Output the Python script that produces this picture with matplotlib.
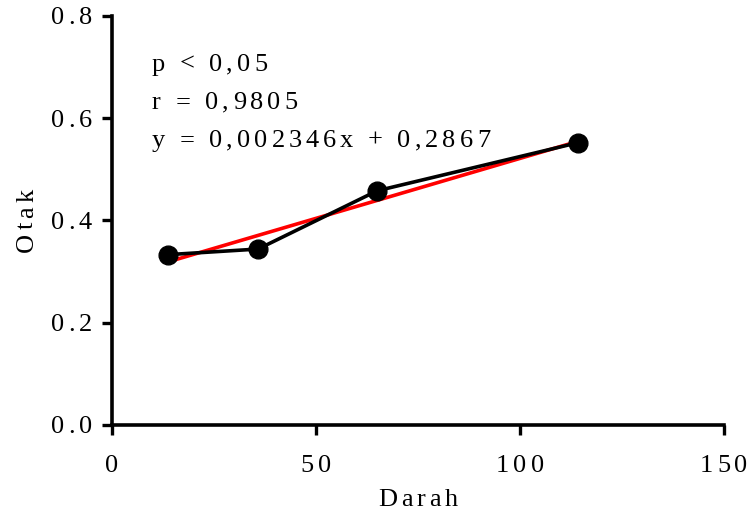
import matplotlib
matplotlib.use("Agg")
import matplotlib.pyplot as plt
import numpy as np
from matplotlib import font_manager
from matplotlib.font_manager import FontProperties
from matplotlib.ft2font import FT2Font
from matplotlib.transforms import ScaledTranslation

# data
darah = [13.7, 35.8, 65.0, 114.2]
otak = [0.333, 0.344, 0.458, 0.552]
slope = 0.002346
intercept = 0.2867
stats_lines = ["p < 0,05", "r = 0,9805", "y = 0,002346x + 0,2867"]
x_ticks = [0, 50, 100, 150]
x_tick_labels = ["0", "50", "100", "150"]
y_ticks = [0.0, 0.2, 0.4, 0.6, 0.8]
y_tick_labels = ["0.0", "0.2", "0.4", "0.6", "0.8"]

FAMILY = 'Liberation Serif'
SIZE = 19
TRACK = 4.0  # extra pixels between letters, like the original export
DPI = 100

plt.rcParams['font.family'] = [FAMILY, 'DejaVu Serif']

fig = plt.figure(figsize=(7.47, 5.15), dpi=DPI)
ax = fig.add_axes([0.150, 0.175, 0.819, 0.794])

ft = FT2Font(font_manager.findfont(FontProperties(family=FAMILY)))
ft.set_size(SIZE, DPI)


def tracked_text(x, y, s, transform, ha='left', rotation=0, dx=0, dy=0):
    """draw a string one letter at a time with extra letter spacing"""
    advs = [ft.load_char(ord(c)).linearHoriAdvance / 65536 for c in s]
    total = sum(advs) + TRACK * (len(s) - 1)
    off = {'left': 0, 'center': -total / 2, 'right': -total}[ha]
    for c, a in zip(s, advs):
        ox, oy = (off, 0) if rotation == 0 else (0, off)
        tr = transform + ScaledTranslation((dx + ox) / DPI, (dy + oy) / DPI,
                                           fig.dpi_scale_trans)
        fig.text(x, y, c, transform=tr, fontsize=SIZE, ha='left',
                 va='baseline', rotation=rotation, rotation_mode='anchor')
        off += a + TRACK


# regression line over the data range
fit_x = np.array([min(darah), max(darah)])
ax.plot(fit_x, slope * fit_x + intercept, color='red', lw=2.6, zorder=2)
ax.plot(darah, otak, color='black', lw=2.6, marker='o', markersize=13.5, zorder=3)

ax.set_xlim(0, 150)
ax.set_ylim(0, 0.8)
ax.set_xticks(x_ticks)
ax.set_yticks(y_ticks)
ax.set_xticklabels([])
ax.set_yticklabels([])

for s in ['top', 'right']:
    ax.spines[s].set_visible(False)
for s in ['left', 'bottom']:
    ax.spines[s].set_linewidth(2.6)
ax.tick_params(width=2.4, length=7.5, direction='out')

for v, lab in zip(x_ticks, x_tick_labels):
    tracked_text(v, 0, lab, ax.get_xaxis_transform(), ha='center', dy=-47)
for v, lab in zip(y_ticks, y_tick_labels):
    tracked_text(0, v, lab, ax.get_yaxis_transform(), ha='right', dx=-20, dy=-8.5)

tracked_text(0.5, 0, "Darah", ax.transAxes, ha='center', dy=-81)
tracked_text(0, 0.5, "Otak", ax.transAxes, ha='center', rotation=90, dx=-79)

for i, line in enumerate(stats_lines):
    tracked_text(9.8, 0.693 - i * 0.0745, line, ax.transData)

fig.savefig("out.png", dpi=DPI)
